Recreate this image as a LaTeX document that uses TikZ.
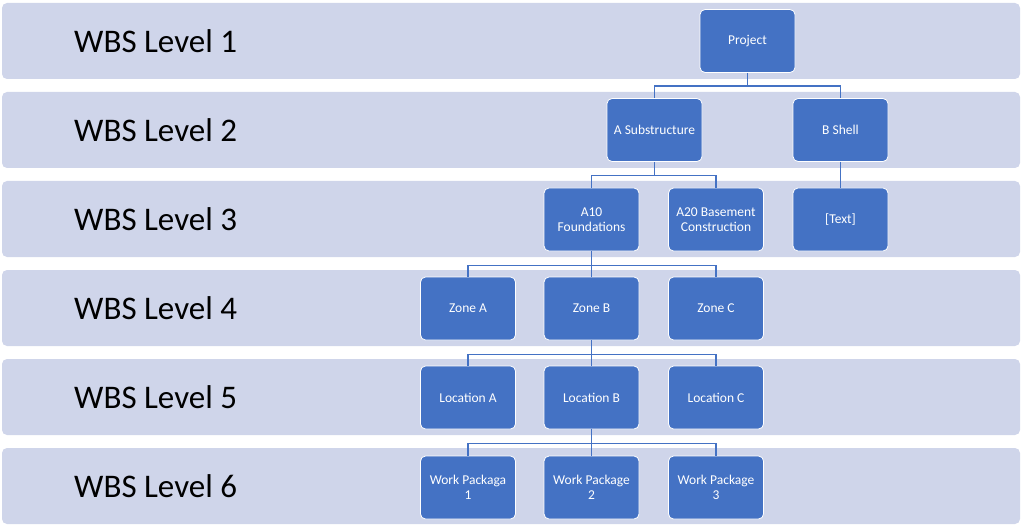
\documentclass[tikz,border=0pt]{standalone}
\usepackage{fontspec}
\setmainfont{Carlito}
\definecolor{bandcol}{HTML}{CFD5EA}
\definecolor{boxcol}{HTML}{4472C4}
\begin{document}
\begin{tikzpicture}[x=1pt,y=-1pt,
  bandbox/.style={rectangle, rounded corners=5pt, fill=bandcol, draw=none, minimum width=1018pt, minimum height=76pt, inner sep=0pt},
  lvl/.style={anchor=west, font=\fontsize{33}{37}\selectfont, text=black, inner sep=0pt},
  wbsbox/.style={rectangle, rounded corners=5pt, fill=boxcol, draw=white, line width=0.8pt, minimum width=95pt, minimum height=63pt, text=white, font=\fontsize{13.5}{14.5}\selectfont, align=center, inner sep=2pt},
  conn/.style={draw=boxcol, line width=1.6pt}]
\useasboundingbox (0,0) rectangle (1024,529);
% bands
\foreach \i in {1,...,6} {
  \node[bandbox] (band\i) at (511, {41+89*(\i-1)}) {};
  \node[lvl] (lab\i) at (74, {41+89*(\i-1)}) {WBS Level \i};
}
% boxes
\node[wbsbox] (proj) at (747.5,41) {Project};
\node[wbsbox] (asub) at (654.5,130) {A Substructure};
\node[wbsbox] (bshell) at (840.5,130) {B Shell};
\node[wbsbox] (a10) at (591.5,219.5) {A10\\Foundations};
\node[wbsbox] (a20) at (716,219.5) {A20 Basement\\Construction};
\node[wbsbox] (txt) at (840.5,219.5) {[Text]};
\node[wbsbox] (za) at (468,308.5) {Zone A};
\node[wbsbox] (zb) at (591.5,308.5) {Zone B};
\node[wbsbox] (zc) at (716,308.5) {Zone C};
\node[wbsbox] (la) at (468,397.5) {Location A};
\node[wbsbox] (lb) at (591.5,397.5) {Location B};
\node[wbsbox] (lc) at (716,397.5) {Location C};
\node[wbsbox] (w1) at (468,487.5) {Work Packaga\\1};
\node[wbsbox] (w2) at (591.5,487.5) {Work Package\\2};
\node[wbsbox] (w3) at (716,487.5) {Work Package\\3};
% connectors
\draw[conn] (proj.south) -- ++(0,13) coordinate (b1);
\draw[conn] (asub.north) |- (b1) -| (bshell.north);
\draw[conn] (asub.south) -- ++(0,13.5) coordinate (b2);
\draw[conn] (a10.north) |- (b2) -| (a20.north);
\draw[conn] (bshell.south) -- (txt.north);
\draw[conn] (a10.south) -- ++(0,14) coordinate (b3);
\draw[conn] (za.north) |- (b3) -| (zc.north);
\draw[conn] (b3) -- (zb.north);
\draw[conn] (zb.south) -- ++(0,14) coordinate (b4);
\draw[conn] (la.north) |- (b4) -| (lc.north);
\draw[conn] (b4) -- (lb.north);
\draw[conn] (lb.south) -- ++(0,14) coordinate (b5);
\draw[conn] (w1.north) |- (b5) -| (w3.north);
\draw[conn] (b5) -- (w2.north);
\end{tikzpicture}
\end{document}
